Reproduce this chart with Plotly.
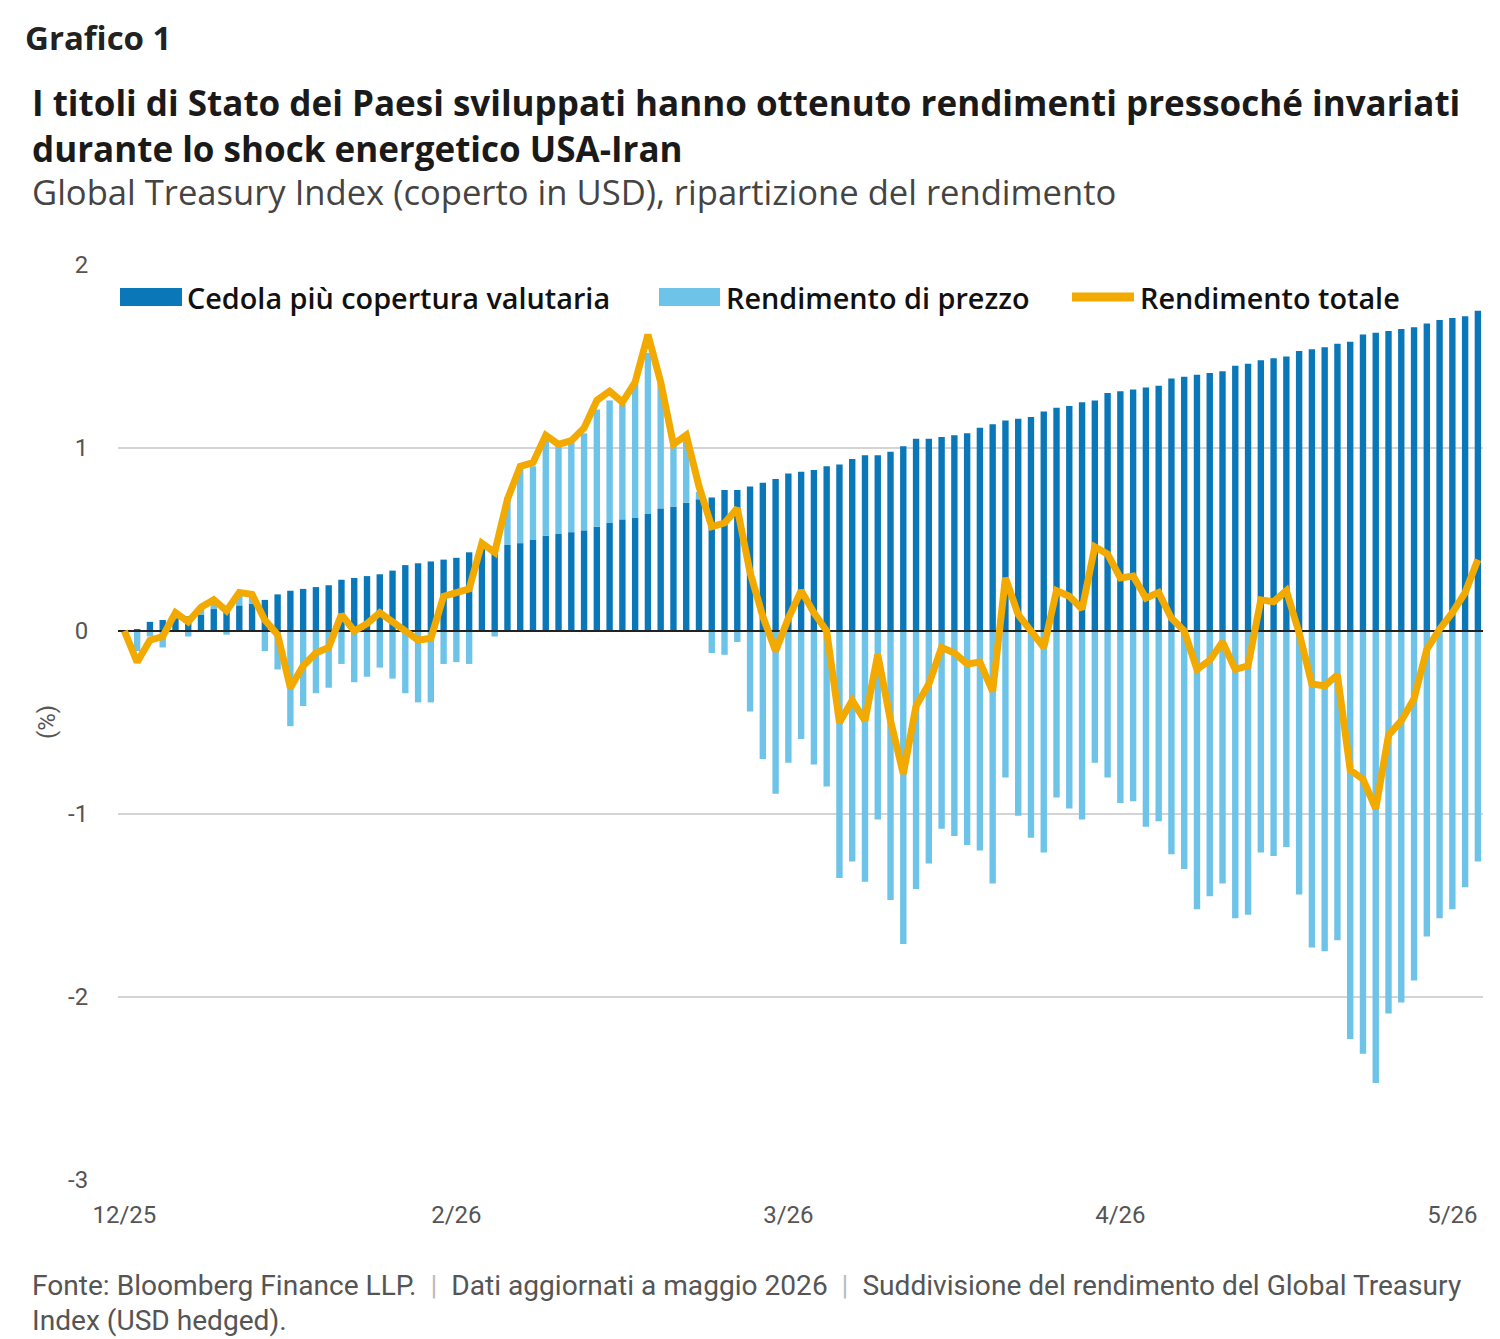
import plotly.graph_objects as go

# ---------------- data ----------------
tick_labels = ["12/25", "2/26", "3/26", "4/26", "5/26"]
tick_index = [0, 26, 52, 78, 104]
y_ticks = [-3, -2, -1, 0, 1, 2]
y_tick_labels = ["-3", "-2", "-1", "0", "1", "2"]

coupon = [
    0.00, 0.01, 0.05, 0.06, 0.07, 0.08, 0.09, 0.12, 0.12, 0.14,
    0.15, 0.17, 0.20, 0.22, 0.23, 0.24, 0.25, 0.28, 0.29, 0.30,
    0.31, 0.33, 0.36, 0.37, 0.38, 0.39, 0.40, 0.43, 0.45, 0.46,
    0.47, 0.48, 0.50, 0.52, 0.53, 0.54, 0.55, 0.57, 0.59, 0.61,
    0.62, 0.64, 0.67, 0.68, 0.70, 0.72, 0.73, 0.77, 0.77, 0.79,
    0.81, 0.83, 0.86, 0.87, 0.88, 0.90, 0.91, 0.94, 0.96, 0.96,
    0.98, 1.01, 1.05, 1.05, 1.06, 1.07, 1.08, 1.11, 1.13, 1.15,
    1.16, 1.17, 1.20, 1.22, 1.23, 1.25, 1.26, 1.30, 1.31, 1.32,
    1.33, 1.34, 1.38, 1.39, 1.40, 1.41, 1.42, 1.45, 1.46, 1.48,
    1.49, 1.50, 1.53, 1.54, 1.55, 1.57, 1.58, 1.62, 1.63, 1.64,
    1.65, 1.66, 1.68, 1.70, 1.71, 1.72, 1.75,
]

price = [
    0.00, -0.11, -0.03, -0.09, 0.02, -0.03, 0.03, 0.04, -0.02, 0.06,
    0.05, -0.11, -0.21, -0.52, -0.41, -0.34, -0.31, -0.18, -0.28, -0.25,
    -0.20, -0.26, -0.34, -0.39, -0.39, -0.18, -0.17, -0.18, 0.02, -0.03,
    0.26, 0.43, 0.40, 0.53, 0.49, 0.49, 0.53, 0.64, 0.67, 0.63,
    0.73, 0.88, 0.69, 0.36, 0.38, 0.04, -0.12, -0.13, -0.06, -0.44,
    -0.70, -0.89, -0.72, -0.59, -0.73, -0.85, -1.35, -1.26, -1.37, -1.03,
    -1.47, -1.71, -1.41, -1.27, -1.08, -1.12, -1.17, -1.20, -1.38, -0.80,
    -1.01, -1.13, -1.21, -0.91, -0.97, -1.03, -0.72, -0.80, -0.94, -0.93,
    -1.07, -1.04, -1.22, -1.30, -1.52, -1.45, -1.38, -1.57, -1.55, -1.21,
    -1.23, -1.18, -1.44, -1.73, -1.75, -1.69, -2.23, -2.31, -2.47, -2.09,
    -2.03, -1.91, -1.67, -1.57, -1.52, -1.40, -1.26,
]

total = [
    0.00, -0.17, -0.05, -0.03, 0.10, 0.05, 0.13, 0.17, 0.11, 0.21,
    0.20, 0.06, -0.02, -0.31, -0.19, -0.12, -0.09, 0.09, 0.00, 0.04,
    0.10, 0.05, 0.00, -0.05, -0.04, 0.19, 0.21, 0.23, 0.48, 0.43,
    0.72, 0.90, 0.92, 1.07, 1.02, 1.04, 1.11, 1.26, 1.31, 1.25,
    1.36, 1.62, 1.36, 1.02, 1.07, 0.79, 0.57, 0.59, 0.67, 0.32,
    0.08, -0.11, 0.07, 0.22, 0.10, 0.00, -0.50, -0.38, -0.49, -0.13,
    -0.49, -0.78, -0.41, -0.29, -0.09, -0.12, -0.18, -0.17, -0.33, 0.29,
    0.09, 0.00, -0.09, 0.22, 0.19, 0.12, 0.46, 0.42, 0.29, 0.30,
    0.18, 0.21, 0.07, 0.00, -0.21, -0.16, -0.06, -0.21, -0.19, 0.17,
    0.16, 0.22, -0.01, -0.29, -0.30, -0.24, -0.76, -0.81, -0.97, -0.57,
    -0.49, -0.37, -0.10, 0.01, 0.10, 0.21, 0.39,
]

idx = list(range(len(coupon)))

# ---------------- styling ----------------
W, H = 1500, 1339
PL, PR, PT, PB = 118, 1483, 265, 1180   # plot area in pixels
X_RANGE = [-0.5, 106.4]
Y_RANGE = [-3, 2]

DARK = "#0A77B8"
LIGHT = "#6EC3E8"
ORANGE = "#F2A900"
FONT = "Roboto"
HEAD = "Open Sans"


def px(X):
    return (X - PL) / (PR - PL)


def py(Y):
    return (PB - Y) / (PB - PT)


fig = go.Figure()
fig.add_trace(go.Bar(x=idx, y=coupon, name="Cedola più copertura valutaria",
                     marker=dict(color=DARK, line=dict(width=0)), width=0.5))
fig.add_trace(go.Bar(x=idx, y=price, name="Rendimento di prezzo",
                     marker=dict(color=LIGHT, line=dict(width=0)), width=0.5))
# zero reference line (drawn above the bars, below the total-return line)
fig.add_trace(go.Scatter(x=X_RANGE, y=[0, 0], mode="lines",
                         line=dict(color="#222222", width=2),
                         hoverinfo="skip", showlegend=False))
fig.add_trace(go.Scatter(x=idx, y=total, name="Rendimento totale", mode="lines",
                         line=dict(color=ORANGE, width=7)))

fig.update_layout(
    width=W, height=H,
    barmode="relative",
    showlegend=False,
    plot_bgcolor="white", paper_bgcolor="white",
    margin=dict(l=PL, r=W - PR, t=PT, b=H - PB),
    font=dict(family=FONT, color="#444444"),
    xaxis=dict(range=X_RANGE, tickmode="array", tickvals=tick_index,
               ticktext=tick_labels, showgrid=False, zeroline=False,
               showline=False, ticks="outside", ticklen=13,
               tickcolor="rgba(0,0,0,0)",
               tickfont=dict(size=24, color="#555555", family=FONT)),
    yaxis=dict(range=Y_RANGE, tickmode="array", tickvals=y_ticks,
               ticktext=y_tick_labels,
               showgrid=True, gridcolor="#D4D4D4", gridwidth=2,
               zeroline=False, showline=False, ticks="outside", ticklen=24,
               tickcolor="rgba(0,0,0,0)",
               tickfont=dict(size=24, color="#555555", family=FONT)),
)

anns = []
anns.append(dict(text="<b>Grafico 1</b>", x=px(23), y=py(38), xanchor="left",
                 yanchor="middle", font=dict(size=33, color="#222222", family=HEAD)))
anns.append(dict(text="<b>I titoli di Stato dei Paesi sviluppati hanno ottenuto rendimenti pressoché invariati</b>",
                 x=px(30), y=py(103), xanchor="left", yanchor="middle",
                 font=dict(size=35, color="#1a1a1a", family=HEAD)))
anns.append(dict(text="<b>durante lo shock energetico USA-Iran</b>",
                 x=px(30), y=py(148), xanchor="left", yanchor="middle",
                 font=dict(size=35, color="#1a1a1a", family=HEAD)))
anns.append(dict(text="Global Treasury Index (coperto in USD), ripartizione del rendimento",
                 x=px(30), y=py(192), xanchor="left", yanchor="middle",
                 font=dict(size=34.6, color="#444444", family=HEAD)))
anns.append(dict(text="(%)", x=px(47), y=py(722), xanchor="center", yanchor="middle",
                 textangle=-90, font=dict(size=24, color="#555555")))

# custom legend
leg_y = 297
leg_font = dict(size=28.8, color="#111111", family=HEAD, weight=600)
anns.append(dict(text="Cedola più copertura valutaria", x=px(185), y=py(leg_y),
                 xanchor="left", yanchor="middle", font=leg_font))
anns.append(dict(text="Rendimento di prezzo", x=px(724), y=py(leg_y),
                 xanchor="left", yanchor="middle", font=leg_font))
anns.append(dict(text="Rendimento totale", x=px(1138), y=py(leg_y),
                 xanchor="left", yanchor="middle", font=leg_font))

sep = "<span style='color:#BBBBBB'>  |  </span>"
anns.append(dict(text="Fonte: Bloomberg Finance LLP." + sep + "Dati aggiornati a maggio 2026" + sep +
                 "Suddivisione del rendimento del Global Treasury",
                 x=px(30), y=py(1285), xanchor="left", yanchor="middle",
                 font=dict(size=28.1, color="#555555")))
anns.append(dict(text="Index (USD hedged).", x=px(30), y=py(1320), xanchor="left",
                 yanchor="middle", font=dict(size=28.1, color="#555555")))

for a in anns:
    a.update(xref="paper", yref="paper", showarrow=False)
fig.update_layout(annotations=anns)

shapes = [
    dict(type="rect", xref="paper", yref="paper", x0=px(120), x1=px(182),
         y0=py(leg_y + 9), y1=py(leg_y - 9), fillcolor=DARK, line=dict(width=0)),
    dict(type="rect", xref="paper", yref="paper", x0=px(659), x1=px(720),
         y0=py(leg_y + 9), y1=py(leg_y - 9), fillcolor=LIGHT, line=dict(width=0)),
    dict(type="line", xref="paper", yref="paper", x0=px(1072), x1=px(1134),
         y0=py(leg_y), y1=py(leg_y), line=dict(color=ORANGE, width=9)),
]
fig.update_layout(shapes=shapes)

fig.write_html("out.html")
